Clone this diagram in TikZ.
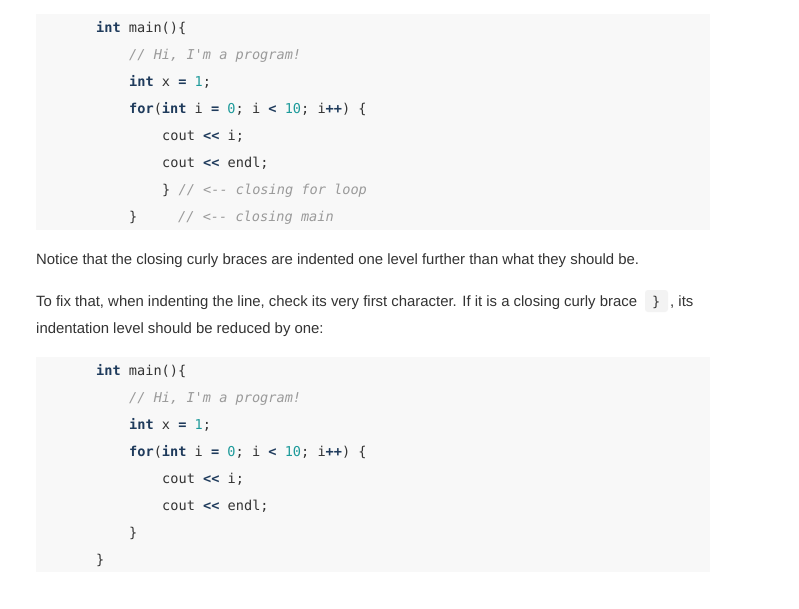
\documentclass[tikz,border=0pt]{standalone}
\usepackage{fontspec}
\setmainfont{Liberation Sans}
\setmonofont{DejaVu Sans Mono}
\definecolor{kwc}{HTML}{1F3B5C}
\definecolor{txc}{HTML}{333333}
\definecolor{cmc}{HTML}{9A9A9A}
\definecolor{nmc}{HTML}{1C9A9A}
\definecolor{bgc}{HTML}{F8F8F8}
\definecolor{icc}{HTML}{F3F3F3}
\newcommand{\kw}[1]{{\bfseries\color{kwc}#1}}
\newcommand{\cm}[1]{{\itshape\color{cmc}#1}}
\newcommand{\nm}[1]{{\color{nmc}#1}}
\begin{document}
\begin{tikzpicture}[x=1pt,y=-1pt,
  code/.style={anchor=base west,inner sep=0pt,font=\ttfamily\fontsize{13.6}{15}\selectfont,text=txc},
  prose/.style={anchor=base west,inner sep=0pt,font=\fontsize{14.9}{17}\selectfont,text=txc}]
\useasboundingbox[fill=white] (0,0) rectangle (799,608);
\fill[bgc] (36,14) rectangle (710,230);
\fill[bgc] (36,357) rectangle (710,572);
% block 1
\node[code] (a1) at (96,32) {\kw{int} main()\{};
\node[code] (a2) at (129,59) {\cm{// Hi, I'm a program!}};
\node[code] (a3) at (129,86) {\kw{int} x \kw{=} \nm{1};};
\node[code] (a4) at (129,113) {\kw{for}(\kw{int} i \kw{=} \nm{0}; i \kw{<} \nm{10}; i\kw{++}) \{};
\node[code] (a5) at (162,140) {cout \kw{<<} i;};
\node[code] (a6) at (162,167) {cout \kw{<<} endl;};
\node[code] (a7) at (162,194) {\} \cm{// <-- closing for loop}};
\node[code] (a8) at (129,221) {\}};
\node[code] (a9) at (178,221) {\cm{// <-- closing main}};
% prose
\node[prose] (p1) at (36,264) {Notice that the closing curly braces are indented one level further than what they should be.};
\fill[icc,rounded corners=3pt] (645,290) rectangle (668,312);
\node[prose] (p2) at (36,306) {To fix that, when indenting the line, check its very first character. If it is a closing curly brace};
\node[code] (pc) at (652,306) {\}};
\node[prose] (p2b) at (670,306) {, its};
\node[prose] (p3) at (36,333) {indentation level should be reduced by one:};
% block 2
\node[code] (b1) at (96,375) {\kw{int} main()\{};
\node[code] (b2) at (129,402) {\cm{// Hi, I'm a program!}};
\node[code] (b3) at (129,429) {\kw{int} x \kw{=} \nm{1};};
\node[code] (b4) at (129,456) {\kw{for}(\kw{int} i \kw{=} \nm{0}; i \kw{<} \nm{10}; i\kw{++}) \{};
\node[code] (b5) at (162,483) {cout \kw{<<} i;};
\node[code] (b6) at (162,510) {cout \kw{<<} endl;};
\node[code] (b7) at (129,537) {\}};
\node[code] (b8) at (96,564) {\}};
\end{tikzpicture}
\end{document}
